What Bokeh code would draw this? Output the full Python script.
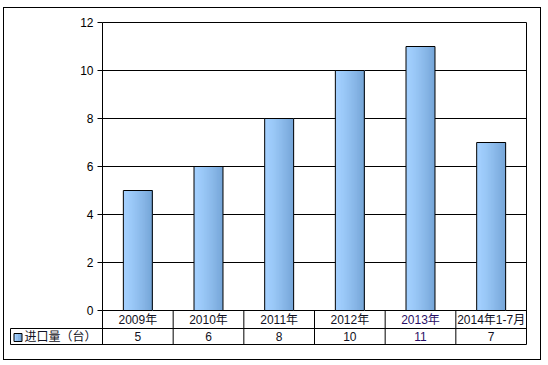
from bokeh.plotting import figure
from bokeh.models import Range1d, FixedTicker, ColumnDataSource
from bokeh.layouts import column
from bokeh.core.properties import value
from bokeh.embed import file_html
from bokeh.resources import INLINE

# ---- data ----
categories = ["2009年", "2010年", "2011年", "2012年", "2013年", "2014年1-7月"]
imports = [5, 6, 8, 10, 11, 7]
series_name = "进口量（台）"
y_ticks = [0, 2, 4, 6, 8, 10, 12]

FONT = value("Liberation Sans, Noto Sans CJK SC")
n_cat = len(categories)
cw = 424 / n_cat      # px per category column
py = 24.0             # px per y unit
W, H = 536, 351

def grad(t):
    c0 = (163, 208, 255)
    c1 = (118, 166, 216)
    r, g, b = (int(round(a + (bb - a) * t)) for a, bb in zip(c0, c1))
    return "#%02x%02x%02x" % (r, g, b)

p = figure(width=W, height=H,
           x_range=Range1d(-93 / cw, 425 / cw),
           y_range=Range1d(-37 / py, 12 + 8 / py),
           output_backend="svg", toolbar_location=None,
           min_border_left=5, min_border_right=13, min_border_top=6,
           min_border_bottom=12)
p.xaxis.visible = False
p.grid.visible = False
p.outline_line_color = None
p.background_fill_color = "white"
p.border_fill_color = "white"

yax = p.yaxis[0]
yax.fixed_location = 0
yax.bounds = (0, 12)
yax.ticker = FixedTicker(ticks=y_ticks)
yax.axis_line_color = "black"
yax.major_tick_line_color = "black"
yax.major_tick_out = 5
yax.major_tick_in = 0
yax.minor_tick_line_color = None
yax.major_label_text_font = "Liberation Sans"
yax.major_label_text_font_size = "12px"
yax.major_label_text_color = "black"
yax.major_label_standoff = 4

# gridlines (only over the plot area)
gl = y_ticks
p.segment(x0=[0] * len(gl), x1=[n_cat] * len(gl), y0=gl, y1=gl,
          line_color="black", line_width=1)

# bars with horizontal gradient (nested strips, no seams)
xs = [i + 0.5 for i in range(n_cat)]
src = ColumnDataSource(dict(x=xs, val=imports))
bw = 0.41
n = 20
for k in range(n):
    frac = k / n
    t = (k / (n - 1)) ** 1.3
    width = bw * (1 - frac)
    centers = [v + bw / 2 - width / 2 for v in xs]
    p.vbar(x=centers, top=imports, width=width, fill_color=grad(t),
           line_color=None)
p.vbar(x="x", top="val", width=bw, source=src, fill_color=None,
       line_color="black", line_width=1)

# ---- data table below ----
row_mid = -18 / py
row_bot = -34 / py
left_edge = -92 / cw
idx = list(range(n_cat + 1))
p.segment(x0=[n_cat], x1=[n_cat], y0=[row_bot], y1=[12], line_color="black")
p.segment(x0=idx[:-1], x1=idx[:-1], y0=[row_bot] * n_cat, y1=[0] * n_cat,
          line_color="black")
p.segment(x0=[left_edge, left_edge], x1=[n_cat, n_cat], y0=[row_mid, row_bot],
          y1=[row_mid, row_bot], line_color="black")
p.segment(x0=[left_edge], x1=[left_edge], y0=[row_bot], y1=[row_mid],
          line_color="black")

txt_colors = ["#111122"] * n_cat
txt_colors[4] = "#2a0f66"
tsrc = ColumnDataSource(dict(x=xs, cat=categories,
                             val=[str(v) for v in imports], col=txt_colors))
p.text(x="x", y=-9 / py, text="cat", source=tsrc, text_font=FONT,
       text_font_size="12px", text_align="center", text_baseline="middle",
       text_color="col")
p.text(x="x", y=-26 / py, text="val", source=tsrc, text_font=FONT,
       text_font_size="12px", text_align="center", text_baseline="middle",
       text_color="col")

# legend key + series name
for k in range(4):
    p.rect(x=[(-87.5 + k * 2) / cw], y=[-27 / py], width=2, height=8,
           width_units="screen", height_units="screen", fill_color=grad(k / 3),
           line_color=None)
p.rect(x=[-84.5 / cw], y=[-27 / py], width=8, height=8, width_units="screen",
       height_units="screen", fill_color=None, line_color="black", line_width=1)
p.text(x=[-78 / cw], y=[-26 / py], text=[series_name], text_font=FONT,
       text_font_size="12px", text_align="left", text_baseline="middle",
       text_color="#111122")

layout = column(p, styles={"border": "1px solid black", "margin-left": "3px",
                           "margin-top": "7px"})

open("out.html", "w").write(file_html(layout, INLINE))
